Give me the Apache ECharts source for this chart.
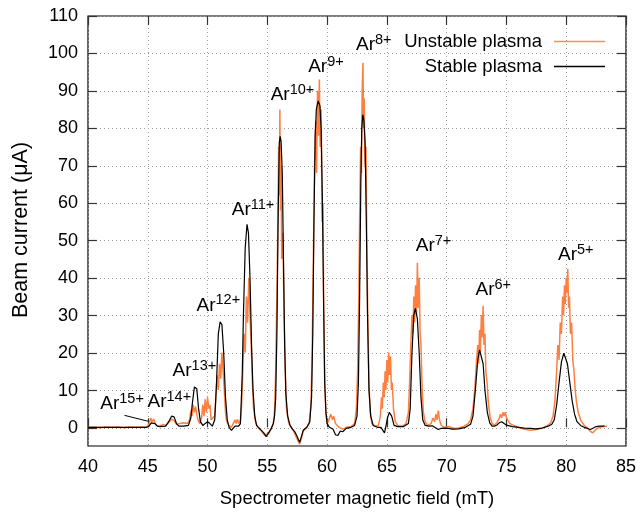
<!DOCTYPE html>
<html>
<head>
<meta charset="utf-8">
<script src="https://cdn.jsdelivr.net/npm/echarts@6/dist/echarts.min.js"></script>
<style>
html,body{margin:0;padding:0;background:#fff;}
#chart{width:641px;height:514px;}
</style>
</head>
<body>
<div id="chart"></div>
<script>
// ---- Data ----
// Stable plasma (black)
var stableX = [40.0,44.9,45.1,45.3,45.45,45.6,45.8,46.0,46.5,46.8,47.0,47.2,47.4,47.6,48.0,48.4,48.6,48.75,48.9,49.0,49.1,49.25,49.4,49.6,49.8,50.0,50.2,50.4,50.6,50.75,50.9,51.05,51.2,51.35,51.5,51.65,51.8,52.0,52.15,52.3,52.45,52.6,52.75,52.9,53.0,53.15,53.3,53.42,53.55,53.68,53.8,53.95,54.1,54.4,54.7,54.9,55.1,55.3,55.5,55.6,55.7,55.8,55.9,56.0,56.07,56.15,56.25,56.35,56.45,56.55,56.7,56.9,57.1,57.3,57.5,57.7,57.85,58.0,58.3,58.55,58.7,58.8,58.9,59.0,59.1,59.25,59.4,59.5,59.6,59.7,59.8,59.9,60.0,60.2,60.5,60.7,60.9,61.1,61.3,61.6,62.0,62.3,62.5,62.62,62.72,62.82,62.9,62.98,63.08,63.18,63.28,63.38,63.5,63.65,63.85,64.2,64.5,64.65,64.8,64.9,65.05,65.2,65.4,65.6,65.9,66.4,66.8,66.95,67.1,67.25,67.38,67.55,67.7,67.85,68.0,68.2,68.5,68.8,69.0,69.3,69.5,70.0,70.5,71.0,71.5,72.0,72.2,72.4,72.6,72.75,72.9,73.05,73.2,73.4,73.6,73.8,74.0,74.2,74.4,74.6,74.8,75.0,75.5,76.0,76.5,77.0,77.5,78.0,78.5,78.8,79.0,79.2,79.4,79.6,79.8,79.95,80.1,80.3,80.5,80.7,80.9,81.2,81.5,81.8,82.0,82.2,82.5,82.8,83.1,83.2];
var stableY = [0,0,0.3,1.2,1.5,1.0,0.3,0.2,0.3,1.8,3.0,2.8,1.0,0.3,0.3,0.5,2.5,7,10.8,11,10.3,5,1.5,0.5,1.0,1.5,1.0,0.3,2,12,25,28.2,27.5,20,8,2,0,-0.8,-1,0.3,0.8,0.3,1,14,30,48,54.3,52,40,22,10,3,0.5,-0.5,-1.5,-2.5,-1.5,-0.5,1,3,8,25,55,76,77.8,76.5,68,45,22,9,3,0.5,-0.5,-1.2,-2.5,-4,-2.5,-0.8,0,1.5,8,25,55,78,85,87.3,86,80,62,35,12,4,1,0,-0.5,-2,-2.2,-1,-1.2,-0.3,0,0.5,3,12,35,65,80,83.6,82,76,55,30,10,3,0.5,0,0,-0.5,-1.5,0,2.5,4,3,0.5,0.2,0.2,1,5,20,30,31.8,29,20,8,2,0.5,0.3,0.4,0,-0.6,-0.3,-0.2,-0.5,-0.4,-0.1,0.8,3,10,18,20.7,20.5,17,10,4,1.2,0.3,0.3,0.6,1.2,1.5,1.0,0.6,0.2,0,-0.2,-0.3,-0.4,-0.2,0.3,0.8,2,6,12,17.5,19.8,19.5,17,12,7,3.5,1.5,0.5,0,-0.3,-0.6,-0.3,0.2,0.3,0.3,0.4];
// Unstable plasma (orange)
var unstableX = [40.0,40.5,41,41.5,42,42.5,43,43.5,44,44.5,44.9,45.1,45.25,45.35,45.5,45.6,45.75,46.0,46.3,46.5,46.8,47.0,47.2,47.4,47.7,48.0,48.3,48.5,48.6,48.7,48.8,48.9,49.0,49.1,49.2,49.35,49.5,49.6,49.7,49.8,49.9,50.0,50.1,50.2,50.3,50.45,50.6,50.7,50.8,50.9,51.0,51.1,51.2,51.3,51.4,51.5,51.6,51.8,52.0,52.15,52.3,52.4,52.5,52.6,52.75,52.85,52.95,53.05,53.15,53.25,53.35,53.45,53.55,53.65,53.75,53.85,54.0,54.2,54.5,54.75,54.9,55.1,55.3,55.5,55.6,55.7,55.8,55.88,55.95,56.0,56.05,56.1,56.15,56.2,56.3,56.4,56.5,56.6,56.8,57.0,57.2,57.4,57.55,57.7,57.85,58.0,58.3,58.5,58.65,58.75,58.85,58.95,59.05,59.12,59.2,59.28,59.35,59.42,59.5,59.58,59.65,59.72,59.8,59.9,60.0,60.15,60.3,60.45,60.55,60.7,60.85,61.0,61.3,61.6,62.0,62.3,62.45,62.55,62.65,62.72,62.8,62.87,62.93,63.0,63.05,63.1,63.17,63.25,63.32,63.4,63.5,63.6,63.75,64.0,64.3,64.45,64.55,64.62,64.7,64.78,64.85,64.92,65.0,65.07,65.15,65.22,65.3,65.38,65.45,65.55,65.7,65.9,66.3,66.6,66.8,66.9,67.0,67.1,67.18,67.25,67.32,67.4,67.48,67.55,67.62,67.7,67.78,67.85,67.95,68.05,68.2,68.4,68.7,68.85,69.0,69.1,69.2,69.3,69.4,69.55,69.8,70.2,70.6,71.0,71.4,71.8,72.0,72.2,72.35,72.5,72.6,72.68,72.75,72.82,72.9,72.97,73.05,73.12,73.2,73.28,73.38,73.5,73.65,73.8,74.0,74.2,74.4,74.5,74.6,74.7,74.8,74.9,75.0,75.1,75.3,75.6,76.0,76.5,77.0,77.5,78.0,78.4,78.7,78.9,79.05,79.2,79.3,79.4,79.5,79.6,79.7,79.78,79.85,79.92,80.0,80.07,80.13,80.2,80.27,80.35,80.45,80.55,80.65,80.75,80.85,81.0,81.2,81.5,81.8,82.0,82.2,82.35,82.5,82.8,83.1,83.4];
var unstableY = [0,0.1,-0.1,0.1,0,0.1,-0.1,0.1,0,0.1,0,0.8,2.5,1.5,2.2,1.2,0.5,0.3,0.8,0.5,1.5,2.2,1.8,0.8,1.0,1.2,1.0,2,4.5,3,6,4,5.5,3.5,2,1,2.5,6,3,7.5,4,8,5,6,2,1.5,3,8,14,10,17,13,20,15,10,4,1.5,0.5,0,1,2,1,2.2,1,2,6,15,25,20,35,28,40,30,22,12,5,1.5,0,-1,-2,-2.5,-1.8,-0.5,1,4,15,35,55,75,62,85,58,70,45,52,30,15,5,1,0,-1,-2.5,-3.5,-4.5,-3,-1,0,1,6,20,45,70,82,68,90,78,93,75,85,55,60,30,12,4,1,2,3.5,2,3,1,0.5,0,-0.5,0,0.2,1,5,15,35,55,75,68,90,97.5,80,88,70,75,50,30,12,4,1,0.3,0.5,3,8,5,12,8,15,10,18,12,20,14,19,10,12,5,1.5,0.5,0.3,1,4,12,22,30,25,35,28,38,30,44,32,40,25,22,10,4,1.5,0.5,1,2.5,1.5,3.5,2,4.5,2,0.5,0,0.2,-0.3,-0.2,0.2,1,2,5,10,18,22,17,26,20,30,24,32.5,22,25,15,12,6,2.5,1,0.6,1.2,2.5,3.5,2.5,4,3,4,2.5,2,1,0.5,0,-0.5,-0.8,-0.6,-0.2,0.4,1.2,3,7,15,22,18,28,25,35,30,38,33,40,36,42.4,32,35,25,28,18,15,10,7,4,2,0.5,-0.3,-1,-1.5,-1.2,-0.5,0,0.2,0.3];
// Peak annotations
var peakCharge = ['15+','14+','13+','12+','11+','10+','9+','8+','7+','6+','5+'];
var peakLabelX = [42.85,46.8,48.9,50.9,53.8,57.1,59.9,63.9,68.9,73.9,80.8];
var peakLabelY = [6.2,6.7,15.0,32.6,58.2,89.0,96.4,102.2,48.6,36.8,46.2];
// Arrow from Ar15+ label to its peak
var arrowFrom = [43.05, 3.2];
var arrowTo = [45.05, 1.6];
// Axis settings
var xTicks = {min: 40, max: 85, step: 5};
var yTicks = {min: 0, max: 110, step: 10};
var yDataMin = -5;

function pairs(xs, ys) { return xs.map(function (x, i) { return [x, ys[i]]; }); }

var FONT = 'Liberation Sans, Arial, Helvetica, sans-serif';
var gridLine = {show: true, lineStyle: {color: '#a0a0a0', type: [1, 3], width: 1}};
var tickStyle = {show: true, inside: true, length: 9, lineStyle: {color: '#333', width: 1.2}};
var hidden = {show: false};

var chart = echarts.init(document.getElementById('chart'), null, {renderer: 'canvas'});
var option = {
  animation: false,
  backgroundColor: '#fff',
  textStyle: {fontFamily: FONT},
  grid: [
    {left: 88, right: 15, top: 16, bottom: 68, show: true, borderColor: '#000', borderWidth: 1.2, backgroundColor: 'transparent'},
    {left: 88, right: 15, top: 16, bottom: 86, show: false}
  ],
  xAxis: [
    {gridIndex: 0, type: 'value', min: xTicks.min, max: xTicks.max, interval: xTicks.step, position: 'bottom',
     axisLine: hidden, axisTick: tickStyle, splitLine: gridLine,
     axisLabel: {color: '#000', fontSize: 18, margin: 12, fontFamily: FONT},
     name: 'Spectrometer magnetic field (mT)', nameLocation: 'middle', nameGap: 43,
     nameTextStyle: {color: '#000', fontSize: 18.5, fontFamily: FONT}},
    {gridIndex: 0, type: 'value', min: xTicks.min, max: xTicks.max, interval: xTicks.step, position: 'top',
     axisLine: hidden, axisTick: tickStyle, splitLine: hidden, axisLabel: hidden},
    {gridIndex: 1, type: 'value', min: xTicks.min, max: xTicks.max, interval: xTicks.step, show: false,
     axisLine: hidden, axisTick: hidden, splitLine: hidden, axisLabel: hidden}
  ],
  yAxis: [
    {gridIndex: 0, type: 'value', min: yDataMin, max: yTicks.max, show: false,
     axisLine: hidden, axisTick: hidden, splitLine: hidden, axisLabel: hidden},
    {gridIndex: 1, type: 'value', min: yTicks.min, max: yTicks.max, interval: yTicks.step, position: 'left',
     axisLine: hidden, axisTick: tickStyle, splitLine: gridLine,
     axisLabel: {color: '#000', fontSize: 18, margin: 10, fontFamily: FONT},
     name: 'Beam current (\u03bcA)', nameLocation: 'middle', nameGap: 56, nameRotate: 90,
     nameTextStyle: {color: '#000', fontSize: 21.5, fontFamily: FONT, padding: [0, 16, 0, 0]}},
    {gridIndex: 1, type: 'value', min: yTicks.min, max: yTicks.max, interval: yTicks.step, position: 'right',
     axisLine: hidden, axisTick: tickStyle, splitLine: hidden, axisLabel: hidden}
  ],
  legend: {
    data: [{name: 'Unstable plasma', icon: 'rect'}, {name: 'Stable plasma', icon: 'rect'}],
    orient: 'vertical', align: 'right', right: 31, top: 26, itemWidth: 51, itemHeight: 1.6, itemGap: 4,
    textStyle: {color: '#000', fontSize: 18.5, lineHeight: 21, fontFamily: FONT, padding: [0, 7, 0, 0]}
  },
  series: [
    {name: 'Unstable plasma', type: 'line', xAxisIndex: 0, yAxisIndex: 0, symbol: 'none',
     data: pairs(unstableX, unstableY), lineStyle: {color: '#ff7f40', width: 1.5}, itemStyle: {color: '#ff8c55'}, z: 2},
    {name: 'Stable plasma', type: 'line', xAxisIndex: 0, yAxisIndex: 0, symbol: 'none',
     data: pairs(stableX, stableY), lineStyle: {color: '#000', width: 1.2}, itemStyle: {color: '#000'}, z: 3},
    {name: 'labels', type: 'scatter', xAxisIndex: 0, yAxisIndex: 0, symbolSize: 0, z: 4,
     itemStyle: {color: '#000', opacity: 1},
     data: peakLabelX.map(function (x, i) { return [x, peakLabelY[i]]; }),
     label: {show: true, position: 'inside', color: '#000', opacity: 1, textBorderWidth: 0,
       formatter: function (p) { return '{a|Ar}{s|' + peakCharge[p.dataIndex] + '}'; },
       rich: {a: {fontSize: 19, color: '#000', fontFamily: FONT, verticalAlign: 'bottom', lineHeight: 19, textBorderWidth: 0},
              s: {fontSize: 14.5, color: '#000', fontFamily: FONT, verticalAlign: 'bottom', lineHeight: 14, padding: [0, 0, 7, 0], textBorderWidth: 0}}},
     markLine: {silent: true, symbol: ['none', 'arrow'], symbolSize: [0, 7], label: {show: false},
       lineStyle: {color: '#000', width: 1, type: 'solid', opacity: 1},
       data: [[{coord: arrowFrom}, {coord: arrowTo}]]}}
  ]
};
chart.setOption(option);
</script>
</body>
</html>
